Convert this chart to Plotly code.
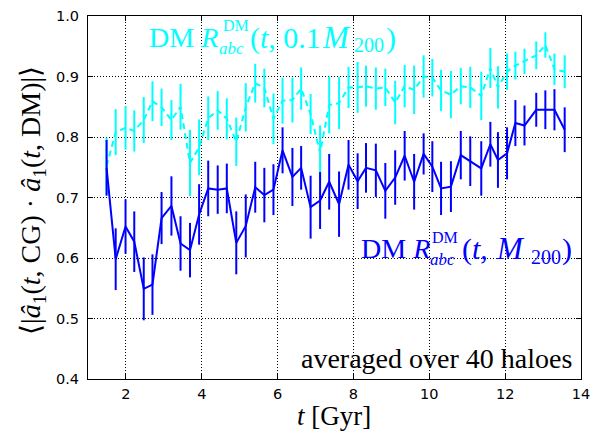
import plotly.graph_objects as go

# ---- data ----
t_gyr = [1.49, 1.73, 1.99, 2.22, 2.47, 2.70, 2.94, 3.20, 3.44, 3.69,
         3.93, 4.17, 4.42, 4.66, 4.91, 5.16, 5.41, 5.65, 5.89, 6.13,
         6.39, 6.62, 6.87, 7.12, 7.36, 7.62, 7.87, 8.11, 8.33, 8.59,
         8.84, 9.10, 9.35, 9.60, 9.85, 10.08, 10.31, 10.57, 10.83, 11.08,
         11.37, 11.61, 11.81, 12.05, 12.27, 12.51, 12.82, 13.06, 13.30, 13.57]

dm_m200 = [0.749, 0.598, 0.652, 0.627, 0.549, 0.556, 0.666, 0.686, 0.624, 0.613,
           0.672, 0.715, 0.713, 0.715, 0.625, 0.653, 0.717, 0.704, 0.713, 0.778,
           0.734, 0.749, 0.684, 0.695, 0.726, 0.689, 0.754, 0.727, 0.749, 0.745,
           0.711, 0.733, 0.769, 0.726, 0.772, 0.751, 0.715, 0.718, 0.770, 0.760,
           0.748, 0.788, 0.762, 0.773, 0.823, 0.819, 0.845, 0.845, 0.845, 0.812]
dm_m200_err = [0.046, 0.051, 0.045, 0.050, 0.052, 0.050, 0.043, 0.049, 0.045, 0.045,
               0.050, 0.046, 0.040, 0.041, 0.052, 0.052, 0.042, 0.045, 0.042, 0.038,
               0.048, 0.036, 0.052, 0.047, 0.046, 0.054, 0.041, 0.046, 0.041, 0.044,
               0.046, 0.045, 0.041, 0.046, 0.034, 0.042, 0.044, 0.042, 0.040, 0.041,
               0.045, 0.037, 0.046, 0.043, 0.038, 0.033, 0.028, 0.032, 0.034, 0.037]

dm_01m200 = [0.752, 0.808, 0.815, 0.810, 0.828, 0.859, 0.849, 0.828, 0.850, 0.757,
             0.783, 0.831, 0.844, 0.830, 0.792, 0.849, 0.889, 0.881, 0.830, 0.860,
             0.861, 0.880, 0.838, 0.774, 0.853, 0.856, 0.882, 0.882, 0.884, 0.880,
             0.882, 0.857, 0.884, 0.878, 0.900, 0.898, 0.877, 0.870, 0.884, 0.882,
             0.868, 0.914, 0.882, 0.908, 0.918, 0.925, 0.935, 0.952, 0.912, 0.908]
dm_01m200_err = [0.047, 0.038, 0.036, 0.034, 0.038, 0.033, 0.031, 0.033, 0.038, 0.055,
                 0.046, 0.036, 0.032, 0.034, 0.040, 0.040, 0.032, 0.032, 0.042, 0.038,
                 0.037, 0.035, 0.033, 0.045, 0.047, 0.043, 0.034, 0.042, 0.034, 0.035,
                 0.031, 0.036, 0.035, 0.040, 0.035, 0.031, 0.034, 0.039, 0.030, 0.034,
                 0.040, 0.033, 0.035, 0.030, 0.023, 0.021, 0.023, 0.021, 0.026, 0.027]

x_ticks = [2, 4, 6, 8, 10, 12, 14]
y_ticks = [0.4, 0.5, 0.6, 0.7, 0.8, 0.9, 1.0]

CYAN = "#00ffff"
BLUE = "#0000ff"
SERIF = "Liberation Serif"

W, H = 614, 437
# plot area in page pixels
L, R, T, B = 88, 581, 8, 379


def px(x, y):
    return (x - L) / (R - L), (B - y) / (B - T)


def ann(text, x, y, size, color, xanchor="left", yanchor="middle", angle=0):
    xp, yp = px(x, y)
    return dict(text=text, x=xp, y=yp, xref="paper", yref="paper",
                xanchor=xanchor, yanchor=yanchor, showarrow=False,
                textangle=angle,
                font=dict(family=SERIF, size=size, color=color))


fig = go.Figure()
fig.add_trace(go.Scatter(
    x=t_gyr, y=dm_01m200, mode="lines",
    line=dict(color=CYAN, width=2, dash="6px,4px"),
    error_y=dict(type="data", array=dm_01m200_err, color=CYAN,
                 thickness=2, width=0),
    showlegend=False))
fig.add_trace(go.Scatter(
    x=t_gyr, y=dm_m200, mode="lines",
    line=dict(color=BLUE, width=2),
    error_y=dict(type="data", array=dm_m200_err, color=BLUE,
                 thickness=2, width=0),
    showlegend=False))

axis_common = dict(
    showline=True, linecolor="black", linewidth=1, mirror="allticks",
    ticks="inside", ticklen=5, tickwidth=1, tickcolor="black",
    showgrid=True, gridcolor="black", gridwidth=1, griddash="1px,2px",
    zeroline=False,
    tickfont=dict(family="DejaVu Sans", size=14.5, color="black"),
)

fig.update_xaxes(range=[1, 14], tickvals=x_ticks,
                 ticktext=[str(v) for v in x_ticks],
                 ticklabelstandoff=2, **axis_common)
fig.update_yaxes(range=[0.4, 1.0], tickvals=y_ticks,
                 ticktext=[f"{v:.1f}" for v in y_ticks],
                 ticklabelstandoff=5, **axis_common)

cy, by = 30, 246  # vertical centres of the two coloured labels
annotations = [
    # cyan label
    ann("DM <i>R</i>", 147, cy, 28, CYAN),
    ann("DM", 221, cy - 12, 16, CYAN),
    ann("<i>abc</i>", 217, cy + 11, 17, CYAN),
    ann("(<i>t</i>, 0.1", 248, cy, 30, CYAN),
    ann("<i>M</i>", 353, cy, 31, CYAN, xanchor="right"),
    ann("200", 352, cy + 8, 20, CYAN),
    ann(")", 384, cy, 30, CYAN),
    # blue label
    ann("DM <i>R</i>", 359, by, 28, BLUE),
    ann("DM", 430, by - 12, 16, BLUE),
    ann("<i>abc</i>", 428, by + 11, 17, BLUE),
    ann("(<i>t</i>,", 460, by, 30, BLUE),
    ann("<i>M</i>", 527, by, 31, BLUE, xanchor="right"),
    ann("200", 529, by + 8, 20, BLUE),
    ann(")", 560, by, 30, BLUE),
    # note
    ann("averaged over 40 haloes", 574, 358, 28, "black", xanchor="right"),
    # axis titles
    ann("<i>t</i> [Gyr]", 334, 399, 27, "black", xanchor="center", yanchor="top"),
    ann("⟨|<i>â</i><sub>1</sub>(<i>t</i>, CG) · <i>â</i><sub>1</sub>(<i>t</i>, DM)|⟩",
        33, 197, 28, "black", xanchor="center", angle=-90),
]

fig.update_layout(
    width=W, height=H,
    margin=dict(l=L, r=W - R, t=T, b=H - B),
    paper_bgcolor="white", plot_bgcolor="white",
    annotations=annotations,
    showlegend=False,
)

fig.write_html("out.html",
               config={"displayModeBar": False},
               post_script="document.body.style.margin='0px';"
                           "document.body.style.padding='0px';")
